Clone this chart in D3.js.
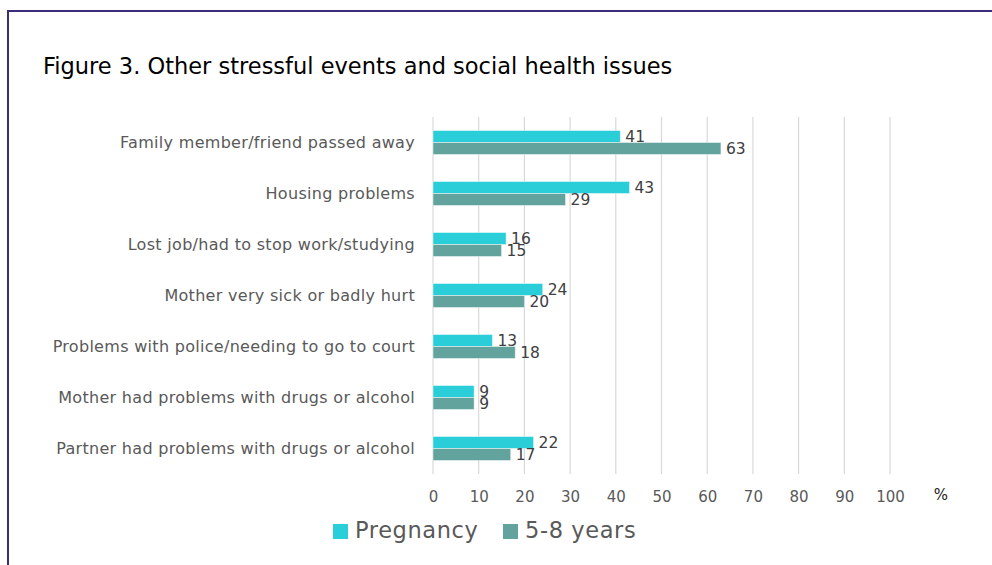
<!DOCTYPE html>
<html>
<head>
<meta charset="utf-8">
<script src="https://cdn.jsdelivr.net/npm/d3@7"></script>
<style>
  html, body { margin: 0; padding: 0; background: #fff; }
  svg { display: block; font-family: "DejaVu Sans", sans-serif; }
</style>
</head>
<body>
<svg id="chart" width="992" height="565"></svg>
<script>
// Survey categories (top to bottom) and percentages for each time point
const categories = [
  "Family member/friend passed away",
  "Housing problems",
  "Lost job/had to stop work/studying",
  "Mother very sick or badly hurt",
  "Problems with police/needing to go to court",
  "Mother had problems with drugs or alcohol",
  "Partner had problems with drugs or alcohol"
];
const pregnancy = [41, 43, 16, 24, 13, 9, 22];
const years58 = [63, 29, 15, 20, 18, 9, 17];
const seriesNames = ["Pregnancy", "5-8 years"];
const xTicks = [0, 10, 20, 30, 40, 50, 60, 70, 80, 90, 100];
const titleText = "Figure 3. Other stressful events and social health issues";
const unitLabel = "%";

const colors = ["#29CED8", "#62A39E"];
const series = [pregnancy, years58];

const svg = d3.select("#chart");

// Outer frame
svg.append("rect")
  .attr("x", 8).attr("y", 11)
  .attr("width", 1000).attr("height", 600)
  .attr("fill", "none")
  .attr("stroke", "#3B2D7A")
  .attr("stroke-width", 2);

// Title
svg.append("text")
  .attr("x", 43).attr("y", 74)
  .attr("font-size", 22.5)
  .attr("fill", "#000")
  .text(titleText);

const plot = { left: 433, right: 890, top: 117, bottom: 474 };

const x = d3.scaleLinear().domain([0, 100]).range([plot.left, plot.right]);
const y = d3.scaleBand().domain(categories).range([plot.top, plot.bottom]).paddingInner(0.53).paddingOuter(0.265);
const sub = d3.scaleBand().domain([0, 1]).range([0, y.bandwidth()]);

// Vertical gridlines
svg.append("g")
  .selectAll("line")
  .data(xTicks)
  .join("line")
  .attr("x1", d => x(d)).attr("x2", d => x(d))
  .attr("y1", plot.top).attr("y2", plot.bottom)
  .attr("stroke", "#D9D9D9")
  .attr("stroke-width", 1.2);

// Tick labels via a bottom axis
const axis = svg.append("g")
  .attr("transform", `translate(0,${plot.bottom})`)
  .call(d3.axisBottom(x).tickValues(xTicks).tickSize(0).tickPadding(17));
axis.select(".domain").remove();
axis.selectAll("text")
  .attr("font-family", "DejaVu Sans, sans-serif")
  .attr("font-size", 15)
  .attr("fill", "#595959");

svg.append("text")
  .attr("x", 941).attr("y", 500)
  .attr("text-anchor", "middle")
  .attr("font-size", 15)
  .attr("fill", "#222")
  .text(unitLabel);

// Category labels
svg.append("g")
  .selectAll("text")
  .data(categories)
  .join("text")
  .attr("x", 415)
  .attr("y", d => y(d) + y.bandwidth() / 2)
  .attr("dy", "0.35em")
  .attr("text-anchor", "end")
  .attr("font-size", 16)
  .attr("letter-spacing", 0.3)
  .attr("fill", "#595959")
  .text(d => d);

// Bars and value labels
series.forEach((vals, si) => {
  const g = svg.append("g");
  g.selectAll("rect")
    .data(vals)
    .join("rect")
    .attr("x", x(0))
    .attr("y", (d, i) => y(categories[i]) + sub(si))
    .attr("width", d => x(d) - x(0))
    .attr("height", sub.bandwidth())
    .attr("fill", colors[si])
    .attr("stroke", "rgba(255,255,255,0.45)")
    .attr("stroke-width", 1);
  g.selectAll("text")
    .data(vals)
    .join("text")
    .attr("x", d => x(d) + 5)
    .attr("y", (d, i) => y(categories[i]) + sub(si) + sub.bandwidth() / 2)
    .attr("dy", "0.35em")
    .attr("font-size", 15.5)
    .attr("fill", "#404040")
    .text(d => d);
});

// Legend
const legend = svg.append("g").attr("transform", "translate(333,524)");
const legendX = [0, 170];
seriesNames.forEach((name, i) => {
  const item = legend.append("g").attr("transform", `translate(${legendX[i]},0)`);
  item.append("rect").attr("width", 15).attr("height", 15).attr("fill", colors[i]);
  item.append("text")
    .attr("x", 22).attr("y", 14)
    .attr("font-size", 22.5)
    .attr("letter-spacing", 0.6)
    .attr("fill", "#595959")
    .text(name);
});
</script>
</body>
</html>
